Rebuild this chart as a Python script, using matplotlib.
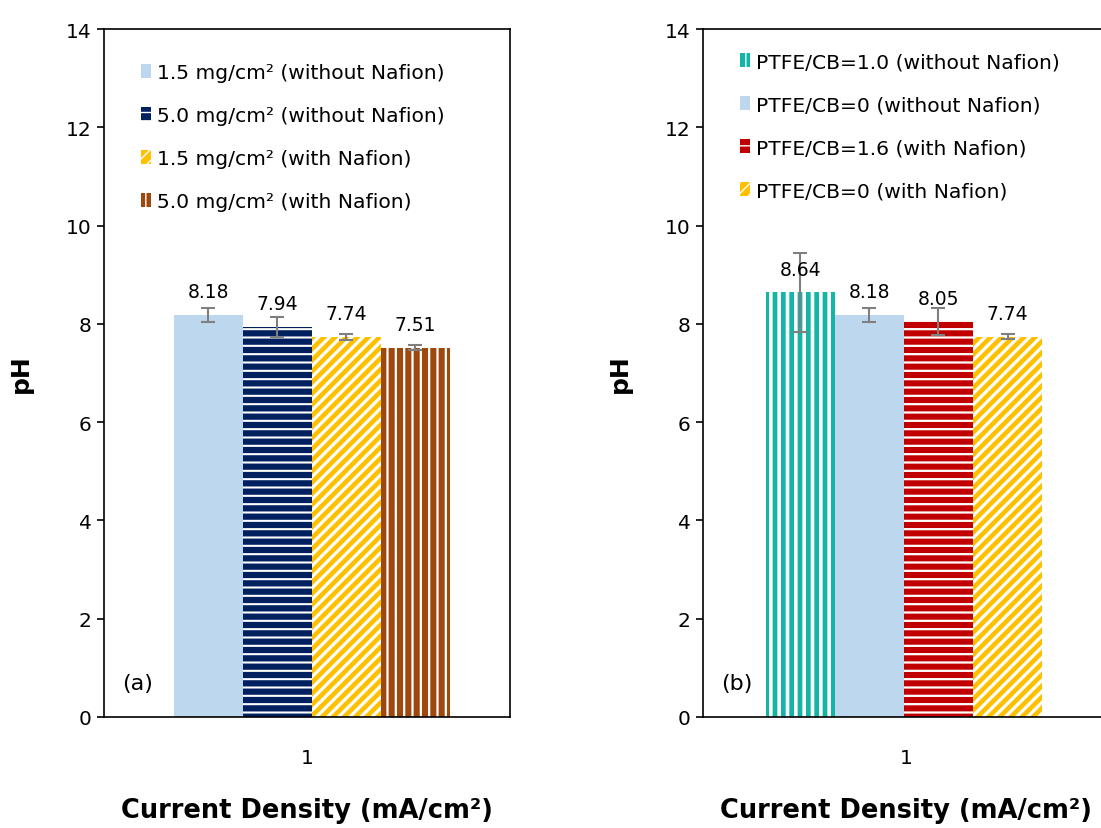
import numpy as np
import matplotlib
matplotlib.use("Agg")
import matplotlib.pyplot as plt
from matplotlib.patches import Patch

plt.rcParams['font.family'] = ['DejaVu Sans']

# panel (a)
labels_a = ["1.5 mg/cm² (without Nafion)", "5.0 mg/cm² (without Nafion)",
            "1.5 mg/cm² (with Nafion)", "5.0 mg/cm² (with Nafion)"]
ph_a = [8.18, 7.94, 7.74, 7.51]
err_a = [0.15, 0.20, 0.06, 0.05]

# panel (b)
labels_b = ["PTFE/CB=1.0 (without Nafion)", "PTFE/CB=0 (without Nafion)",
            "PTFE/CB=1.6 (with Nafion)", "PTFE/CB=0 (with Nafion)"]
ph_b = [8.64, 8.18, 8.05, 7.74]
err_b = [0.80, 0.14, 0.28, 0.05]

category = ["1"]

# colour, hatch, hatch line width
styles_a = [("#BDD7EE", "", 1), ("#002060", "--", 1.5), ("#FFC000", "///", 2.3), ("#9E480E", "||", 1.6)]
styles_b = [("#12B5A6", "||", 2.6), ("#BDD7EE", "", 1), ("#C00000", "--", 1.6), ("#FFC000", "///", 2.3)]

fig = plt.figure(figsize=(11.01, 8.29), dpi=100)
ax1 = fig.add_axes([0.0945, 0.1339, 0.3688, 0.8299])
ax2 = fig.add_axes([0.6385, 0.1339, 0.3688, 0.8299])

width = 0.17


def draw(ax, vals, errs, labels, styles, tag, legend_y, shift):
    handles = []
    for i, (v, e) in enumerate(zip(vals, errs)):
        col, hatch, hlw = styles[i]
        x = 1 + shift + (i - 1.5) * width
        with plt.rc_context({'hatch.linewidth': hlw}):
            ax.bar(x, v, width=width, color=col, hatch=hatch,
                   edgecolor="white", linewidth=0)
            handles.append(Patch(facecolor=col, hatch=hatch, edgecolor="white",
                                 linewidth=0, label=labels[i]))
        ax.errorbar(x, v, yerr=e, fmt="none", ecolor="#7F7F7F",
                    elinewidth=1.5, capsize=5, capthick=1.5)
        ax.text(x, v + 0.47, "%.2f" % v, ha="center", va="center", fontsize=13.5)
    ax.set_xlim(0.5, 1.5)
    ax.set_ylim(0, 14)
    ax.set_yticks(np.arange(0, 15, 2))
    ax.set_xticks([1])
    ax.set_xticklabels(category)
    ax.tick_params(axis="x", length=0, pad=22, labelsize=14.5)
    ax.tick_params(axis="y", direction="out", length=5, width=1.2, labelsize=14.5, pad=4)
    for s in ax.spines.values():
        s.set_linewidth(1.2)
    ax.set_ylabel("pH", fontsize=18, fontweight="bold", labelpad=24)
    ax.set_xlabel("Current Density (mA/cm²)", fontsize=18.5, fontweight="bold", labelpad=22)
    ax.text(0.045, 0.04, tag, transform=ax.transAxes, fontsize=16)
    ax.legend(handles=handles, loc="upper left", bbox_to_anchor=(0.07, legend_y),
              frameon=False, fontsize=14.6, handlelength=0.5, handleheight=0.7,
              handletextpad=0.3, labelspacing=1.18, borderaxespad=0)


draw(ax1, ph_a, err_a, labels_a, styles_a, "(a)", 0.962, 0.012)
draw(ax2, ph_b, err_b, labels_b, styles_b, "(b)", 0.978, -0.005)

fig.savefig("out.png", dpi=100)
